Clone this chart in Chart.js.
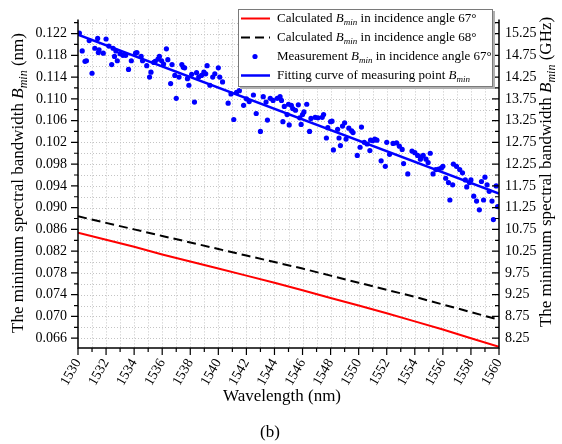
<!DOCTYPE html>
<html>
<head>
<meta charset="utf-8">
<script src="https://cdn.jsdelivr.net/npm/chart.js@4.4.1/dist/chart.umd.min.js"></script>
<style>
  html, body { margin: 0; padding: 0; background: #fff; }
  #wrap { width: 562px; height: 444px; }
</style>
</head>
<body>
<div id="wrap"><canvas id="bminChart"></canvas></div>
<script>
// calculated Bmin curves (nm), read every 2 nm
const calcWl = [1530, 1532, 1534, 1536, 1538, 1540, 1542, 1544, 1546, 1548, 1550, 1552, 1554, 1556, 1558, 1560];
const calc67 = [0.0854, 0.0841, 0.0828, 0.0814, 0.0801, 0.0788, 0.0775, 0.0762, 0.0748, 0.0734, 0.0720, 0.0706, 0.0691, 0.0676, 0.0660, 0.0644];
const calc68 = [0.0884, 0.0872, 0.0860, 0.0848, 0.0836, 0.0824, 0.0812, 0.0800, 0.0788, 0.0775, 0.0762, 0.0749, 0.0736, 0.0722, 0.0708, 0.0694];

// measured points
const measWl = [
  1530.1, 1530.3, 1530.5, 1530.6, 1530.8, 1531.0, 1531.2, 1531.4, 1531.45, 1531.5,
  1531.8, 1532.0, 1532.2, 1532.4, 1532.5, 1532.6, 1532.7, 1532.8, 1533.0, 1533.2,
  1533.4, 1533.6, 1533.8, 1534.1, 1534.2, 1534.5, 1534.6, 1534.9, 1535.1, 1535.2,
  1535.4, 1535.5, 1535.7, 1535.8, 1535.96, 1536.1, 1536.3, 1536.4, 1536.6, 1536.7,
  1536.9, 1537.0, 1537.2, 1537.4, 1537.5, 1537.6, 1537.8, 1537.9, 1538.1, 1538.3,
  1538.45, 1538.6, 1538.8, 1538.97, 1539.1, 1539.2, 1539.4, 1539.6, 1539.75, 1540.0,
  1540.1, 1540.3, 1540.7, 1540.9, 1541.1, 1541.3, 1541.5, 1541.8, 1542.0, 1542.2,
  1542.5, 1542.7, 1543.0, 1543.2, 1543.4, 1543.5, 1543.7, 1543.9, 1544.2, 1544.4,
  1544.5, 1544.6, 1544.7, 1544.9, 1545.0, 1545.05, 1545.2, 1545.3, 1545.5, 1545.7,
  1545.8, 1545.9, 1546.0, 1546.1, 1546.3, 1546.5, 1546.6, 1546.9, 1547.1, 1547.4,
  1547.5, 1547.7, 1547.8, 1548.0, 1548.1, 1548.2, 1548.5, 1548.6, 1548.7, 1548.85,
  1549.0, 1549.1, 1549.3, 1549.5, 1549.6, 1549.9, 1550.1, 1550.2, 1550.4, 1550.6,
  1550.8, 1550.85, 1551.0, 1551.15, 1551.3, 1551.6, 1551.9, 1552.0, 1552.2, 1552.45,
  1552.7, 1552.9, 1553.1, 1553.2, 1553.5, 1553.8, 1554.0, 1554.2, 1554.4, 1554.5,
  1554.6, 1554.8, 1554.95, 1555.1, 1555.3, 1555.5, 1555.7, 1555.9, 1556.0, 1556.2,
  1556.4, 1556.5, 1556.7, 1556.75, 1556.97, 1557.2, 1557.4, 1557.6, 1557.7, 1557.9,
  1558.0, 1558.2, 1558.4, 1558.6, 1558.75, 1558.9, 1559.0, 1559.15, 1559.3, 1559.5,
  1559.6, 1559.8, 1559.9
];
const measBmin = [
  0.1221, 0.1188, 0.1169, 0.1170, 0.1207, 0.1147, 0.1193, 0.1211, 0.1185, 0.1190,
  0.1184, 0.1210, 0.1197, 0.1163, 0.1193, 0.1178, 0.1188, 0.1170, 0.1183, 0.1180,
  0.1180, 0.1154, 0.1170, 0.1184, 0.1185, 0.1178, 0.1170, 0.1161, 0.1140, 0.1149,
  0.1167, 0.1169, 0.1173, 0.1178, 0.1170, 0.1164, 0.1192, 0.1172, 0.1128, 0.1163,
  0.1143, 0.1101, 0.1140, 0.1163, 0.1158, 0.1157, 0.1137, 0.1125, 0.1145, 0.1094,
  0.1148, 0.1140, 0.1143, 0.1149, 0.1146, 0.1161, 0.1125, 0.1140, 0.1146, 0.1157,
  0.1140, 0.1131, 0.1092, 0.1109, 0.1062, 0.1112, 0.1115, 0.1088, 0.1100, 0.1095,
  0.1107, 0.1073, 0.1040, 0.1104, 0.1094, 0.1061, 0.1101, 0.1097, 0.1101, 0.1104,
  0.1097, 0.1058, 0.1086, 0.1071, 0.1090, 0.1052, 0.1088, 0.1082, 0.1079, 0.1089,
  0.1065, 0.1053, 0.1071, 0.1076, 0.1090, 0.1040, 0.1064, 0.1066, 0.1065, 0.1066,
  0.1071, 0.1028, 0.1047, 0.1058, 0.1059, 0.1006, 0.1044, 0.1028, 0.1014, 0.1050,
  0.1056, 0.1026, 0.1046, 0.1041, 0.1038, 0.0996, 0.1011, 0.1048, 0.1020, 0.1017,
  0.1005, 0.1024, 0.1023, 0.1026, 0.1024, 0.0986, 0.0976, 0.1020, 0.0998, 0.1018,
  0.1019, 0.1013, 0.1007, 0.0981, 0.0962, 0.1004, 0.1001, 0.0996, 0.0989, 0.0994,
  0.0996, 0.0989, 0.0983, 0.1000, 0.0962, 0.0970, 0.0971, 0.0973, 0.0976, 0.0954,
  0.0946, 0.0914, 0.0942, 0.0980, 0.0976, 0.0970, 0.0964, 0.0951, 0.0938, 0.0946,
  0.0951, 0.0921, 0.0912, 0.0896, 0.0948, 0.0914, 0.0956, 0.0942, 0.0930, 0.0912,
  0.0878, 0.0940, 0.0902
];

// linear fit of the measured points
const fitWl = [1530, 1560];
const fitBmin = [0.1218, 0.0926];

// tick labels
const xTickLabels = [1530, 1532, 1534, 1536, 1538, 1540, 1542, 1544, 1546, 1548, 1550, 1552, 1554, 1556, 1558, 1560];
const nmTickLabels = [0.066, 0.070, 0.074, 0.078, 0.082, 0.086, 0.090, 0.094, 0.098, 0.102, 0.106, 0.110, 0.114, 0.118, 0.122];
const ghzTickLabels = [8.25, 8.75, 9.25, 9.75, 10.25, 10.75, 11.25, 11.75, 12.25, 12.75, 13.25, 13.75, 14.25, 14.75, 15.25];

const GHZ_PER_NM = 125;
const yMin = 0.0642, yMax = 0.1246;

const FONT = '"Liberation Serif", "Times New Roman", serif';
Chart.defaults.font.family = FONT;
Chart.defaults.color = '#000';

// text with an italic B and subscript "min" wherever "Bmin" appears
function drawRich(ctx, text, x, y, size, align) {
  const segs = [];
  text.split('Bmin').forEach((p, i) => {
    if (i > 0) {
      segs.push({ t: 'B', f: 'italic ' + size + 'px ' + FONT, dy: 0 });
      segs.push({ t: 'min', f: 'italic ' + Math.round(size * 0.68) + 'px ' + FONT, dy: size * 0.3 });
    }
    if (p) segs.push({ t: p, f: size + 'px ' + FONT, dy: 0 });
  });
  let total = 0;
  segs.forEach(s => { ctx.font = s.f; s.w = ctx.measureText(s.t).width; total += s.w; });
  let cx = align === 'center' ? x - total / 2 : x;
  ctx.textAlign = 'left';
  ctx.textBaseline = 'middle';
  segs.forEach(s => { ctx.font = s.f; ctx.fillText(s.t, cx, y + s.dy); cx += s.w; });
}

function seg(ctx, x1, y1, x2, y2) { ctx.moveTo(x1, y1); ctx.lineTo(x2, y2); }

const framePlugin = {
  id: 'frame',
  beforeDatasetsDraw(chart) {
    const { ctx, chartArea: a, scales } = chart;
    ctx.save();
    ctx.strokeStyle = '#c4c4c4';
    ctx.lineWidth = 1;
    ctx.setLineDash([1, 2]);
    ctx.beginPath();
    for (let w = 1531; w < 1560; w++) {
      const px = Math.round(scales.x.getPixelForValue(w)) + 0.5;
      seg(ctx, px, a.top, px, a.bottom);
    }
    for (let i = 0; i <= 29; i++) {
      const py = Math.round(scales.y.getPixelForValue(0.066 + i * 0.002)) + 0.5;
      seg(ctx, a.left, py, a.right, py);
    }
    ctx.stroke();
    ctx.restore();
  },
  afterDatasetsDraw(chart) {
    const { ctx, chartArea: a, scales } = chart;
    ctx.save();
    ctx.strokeStyle = '#000';
    ctx.lineWidth = 1.5;
    ctx.beginPath();
    seg(ctx, a.left, a.top, a.left, a.bottom + 0.75);
    seg(ctx, a.left, a.bottom, a.right, a.bottom);
    seg(ctx, a.right, a.top, a.right, a.bottom + 0.75);
    ctx.stroke();

    ctx.lineWidth = 1.2;
    ctx.beginPath();
    for (let w = 1530; w <= 1560; w++) {
      const px = scales.x.getPixelForValue(w);
      seg(ctx, px, a.bottom, px, a.bottom + (w % 2 === 0 ? 7 : 4));
    }
    for (let i = 0; i <= 29; i++) {
      const py = scales.y.getPixelForValue(0.066 + i * 0.002);
      seg(ctx, a.left - (i % 2 === 0 ? 7 : 4), py, a.left, py);
    }
    for (let i = 0; i <= 29; i++) {
      const py = scales.y2.getPixelForValue(8.25 + i * 0.25);
      seg(ctx, a.right - (i % 2 === 0 ? 7 : 4), py, a.right, py);
    }
    ctx.stroke();
    ctx.restore();
  },
  afterDraw(chart) {
    const { ctx } = chart;
    ctx.save();
    ctx.fillStyle = '#000';

    // axis titles
    ctx.save();
    ctx.translate(19, 183);
    ctx.rotate(-Math.PI / 2);
    drawRich(ctx, 'The minimum spectral bandwidth Bmin (nm)', 0, 0, 17, 'center');
    ctx.restore();

    ctx.save();
    ctx.translate(547, 172);
    ctx.rotate(-Math.PI / 2);
    drawRich(ctx, 'The minimum spectral bandwidth Bmin (GHz)', 0, 0, 17, 'center');
    ctx.restore();

    drawRich(ctx, 'Wavelength (nm)', 282, 397, 17, 'center');
    drawRich(ctx, '(b)', 270, 433, 17, 'center');

    // legend box
    const bx = 238, by = 9, bw = 255, bh = 78;
    ctx.fillStyle = '#b0b0b0';
    ctx.fillRect(bx + 2, by + 2, bw, bh);
    ctx.fillStyle = '#fff';
    ctx.fillRect(bx, by, bw, bh);
    ctx.strokeStyle = '#7a7a7a';
    ctx.lineWidth = 1;
    ctx.strokeRect(bx + 0.5, by + 0.5, bw - 1, bh - 1);

    chart.data.datasets.forEach((ds, i) => {
      const ry = 18.5 + i * 19;
      ctx.save();
      if (ds.showLine) {
        ctx.strokeStyle = ds.borderColor;
        ctx.lineWidth = ds.borderWidth;
        ctx.setLineDash(ds.borderDash || []);
        ctx.beginPath();
        seg(ctx, 241, ry, 270, ry);
        ctx.stroke();
      } else {
        ctx.fillStyle = ds.backgroundColor;
        ctx.beginPath();
        ctx.arc(255, ry, ds.pointRadius, 0, Math.PI * 2);
        ctx.fill();
      }
      ctx.restore();
      ctx.fillStyle = '#000';
      drawRich(ctx, ds.label, 277, ry, 13, 'left');
    });
    ctx.restore();
  }
};

const toXY = (xs, ys) => xs.map((x, i) => ({ x: x, y: ys[i] }));
const tickFont = { family: FONT, size: 14 };

new Chart(document.getElementById('bminChart'), {
  type: 'scatter',
  data: {
    datasets: [
      {
        label: 'Calculated Bmin in incidence angle 67°',
        data: toXY(calcWl, calc67),
        showLine: true, borderColor: '#ff0000', borderWidth: 2,
        pointRadius: 0, order: 3
      },
      {
        label: 'Calculated Bmin in incidence angle 68°',
        data: toXY(calcWl, calc68),
        showLine: true, borderColor: '#000000', borderWidth: 2, borderDash: [9, 5],
        pointRadius: 0, order: 4
      },
      {
        label: 'Measurement Bmin in incidence angle 67°',
        data: toXY(measWl, measBmin),
        showLine: false, backgroundColor: '#0000ff', borderColor: '#0000ff',
        pointRadius: 2.6, pointBorderWidth: 0, order: 2
      },
      {
        label: 'Fitting curve of measuring point Bmin',
        data: toXY(fitWl, fitBmin),
        showLine: true, borderColor: '#0000ff', borderWidth: 2.5,
        pointRadius: 0, order: 1
      }
    ]
  },
  options: {
    responsive: true,
    maintainAspectRatio: false,
    animation: false,
    layout: { padding: { top: 13, left: 0, right: 0, bottom: 0 } },
    plugins: { legend: { display: false }, tooltip: { enabled: false } },
    scales: {
      x: {
        type: 'linear', min: 1530, max: 1560,
        afterFit(s) { s.height = 96; },
        afterBuildTicks(s) { s.ticks = xTickLabels.map(v => ({ value: v })); },
        grid: { display: false, drawTicks: false },
        border: { display: false },
        ticks: {
          autoSkip: false, minRotation: 60, maxRotation: 60, padding: 8,
          font: tickFont, color: '#000',
          callback: v => String(v)
        }
      },
      y: {
        type: 'linear', position: 'left', min: yMin, max: yMax,
        afterFit(s) { s.width = 78; },
        afterBuildTicks(s) { s.ticks = nmTickLabels.map(v => ({ value: v })); },
        grid: { display: false, drawTicks: false },
        border: { display: false },
        ticks: { padding: 11, font: tickFont, color: '#000', callback: v => v.toFixed(3) }
      },
      y2: {
        type: 'linear', position: 'right', min: yMin * GHZ_PER_NM, max: yMax * GHZ_PER_NM,
        afterFit(s) { s.width = 63; },
        afterBuildTicks(s) { s.ticks = ghzTickLabels.map(v => ({ value: v })); },
        grid: { display: false, drawTicks: false },
        border: { display: false },
        ticks: { padding: 6, font: tickFont, color: '#000', callback: v => v.toFixed(2) }
      }
    }
  },
  plugins: [framePlugin]
});
</script>
</body>
</html>
